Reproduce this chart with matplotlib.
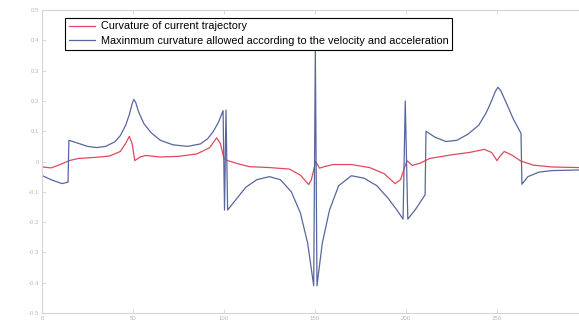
import matplotlib
matplotlib.use('Agg')
import matplotlib.pyplot as plt

# curvature of the current trajectory
red_x = [0, 5, 10, 15, 20, 30, 37, 43, 46, 48, 49.5, 51, 54, 57, 65, 75, 85, 92, 96, 98,
         100, 102, 108, 114, 125, 136, 142, 146.5, 148, 150.4, 152.5, 155, 160, 170, 180,
         188, 194, 197, 200.5, 203.5, 208, 213, 225, 235, 243, 247, 250, 252, 254, 258,
         263, 270, 280, 295]
red_y = [-0.018, -0.021, -0.01, 0.003, 0.01, 0.014, 0.018, 0.033, 0.06, 0.083, 0.06, 0.003,
         0.015, 0.02, 0.015, 0.017, 0.025, 0.045, 0.078, 0.06, 0.01, 0.003, -0.008, -0.017,
         -0.02, -0.025, -0.045, -0.076, -0.06, 0.0, -0.022, -0.017, -0.01, -0.01, -0.02,
         -0.04, -0.073, -0.06, 0.003, -0.013, -0.005, 0.01, 0.022, 0.03, 0.04, 0.03, 0.003,
         0.02, 0.033, 0.022, 0.002, -0.012, -0.018, -0.02]

# maximum curvature allowed by velocity and acceleration
blue_x = [0, 5, 11, 14.3, 14.8, 20, 25, 30, 35, 40, 43, 46, 48, 49.5, 50.5, 51.5, 53, 56,
          60, 65, 72, 80, 87, 91, 94, 97, 99.5, 100.3, 101.1, 102.0, 106, 112, 118, 125,
          131, 137, 142, 146, 149.3, 150.2, 151.1, 154, 158, 163, 170, 177, 184, 190, 195,
          198.4, 199.6, 201.0, 205, 210.5, 211, 216, 222, 228, 234, 240, 244, 247, 249,
          250.5, 252, 255, 259, 263.2, 263.7, 267, 273, 280, 295]
blue_y = [-0.046, -0.06, -0.073, -0.068, 0.07, 0.06, 0.05, 0.046, 0.05, 0.065, 0.085, 0.12,
          0.155, 0.19, 0.205, 0.195, 0.165, 0.125, 0.095, 0.07, 0.055, 0.05, 0.058, 0.075,
          0.098, 0.13, 0.168, -0.16, 0.17, -0.16, -0.13, -0.085, -0.06, -0.05, -0.06, -0.1,
          -0.17, -0.27, -0.41, 0.37, -0.41, -0.27, -0.16, -0.08, -0.047, -0.055, -0.08,
          -0.12, -0.16, -0.19, 0.2, -0.19, -0.16, -0.11, 0.1, 0.08, 0.066, 0.07, 0.09, 0.12,
          0.16, 0.2, 0.23, 0.245, 0.235, 0.195, 0.14, 0.093, -0.075, -0.05, -0.035, -0.03,
          -0.028]

x_ticks = [0, 50, 100, 150, 200, 250]
y_ticks = [-0.5, -0.4, -0.3, -0.2, -0.1, 0, 0.1, 0.2, 0.3, 0.4, 0.5]
y_labels = ['-0.5', '-0.4', '-0.3', '-0.2', '-0.1', '0', '0.1', '0.2', '0.3', '0.4', '0.5']

plt.rcParams['font.family'] = ['Liberation Sans', 'DejaVu Sans']

fig = plt.figure(figsize=(5.79, 3.24), dpi=100)
ax = fig.add_axes([0.0725, 0.034, 0.943, 0.935])

ax.plot(red_x, red_y, color='#e2485c', lw=0.9, label='Curvature of current trajectory')
ax.plot(blue_x, blue_y, color='#5866a0', lw=0.9,
        label='Maxinmum curvature allowed according to the velocity and acceleration')

ax.set_xlim(0, 300)
ax.set_ylim(-0.5, 0.5)
ax.set_xticks(x_ticks)
ax.set_xticklabels([str(t) for t in x_ticks])
ax.set_yticks(y_ticks)
ax.set_yticklabels(y_labels)

spine_col = '#d4d4d4'
for s in ax.spines.values():
    s.set_color(spine_col)
    s.set_linewidth(0.8)
ax.tick_params(direction='in', length=3, width=0.6, color=spine_col,
               labelcolor='#b8b8b8', labelsize=4.3, pad=2, top=True, right=True)

leg = ax.legend(loc='upper left', bbox_to_anchor=(0.033, 0.993), fontsize=7.8,
                frameon=True, fancybox=False, edgecolor='black', framealpha=1,
                handlelength=2.4, handletextpad=0.5, borderpad=0.35, labelspacing=0.45)
leg.get_frame().set_linewidth(0.8)

fig.savefig('out.png', dpi=100)
